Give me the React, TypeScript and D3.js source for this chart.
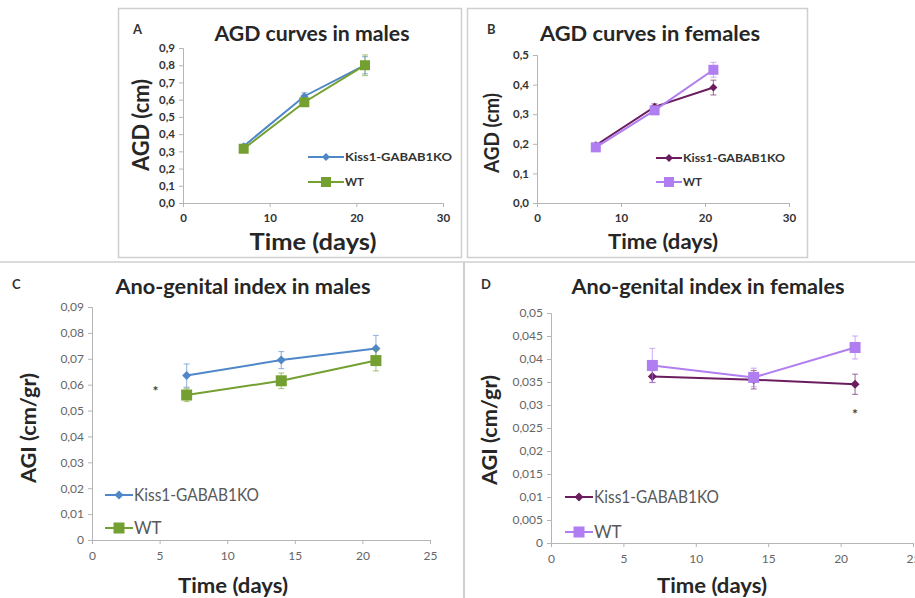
import React, { useEffect, useRef } from 'react';
import * as d3 from 'd3';

// days of measurement
const days = [7, 14, 21];

// A: AGD males
const agdMaleKO = [0.33, 0.62, 0.8];
const agdMaleKOErr = [0.01, 0.02, 0.05];
const agdMaleWT = [0.315, 0.585, 0.8];
const agdMaleWTErr = [0.01, 0.015, 0.06];

// B: AGD females
const agdFemKO = [0.195, 0.325, 0.39];
const agdFemKOErr = [0.005, 0.01, 0.025];
const agdFemWT = [0.188, 0.313, 0.45];
const agdFemWTErr = [0.005, 0.01, 0.025];

// C: AGI males
const agiMaleKO = [0.0635, 0.0695, 0.074];
const agiMaleKOErr = [0.0045, 0.0033, 0.005];
const agiMaleWT = [0.056, 0.0615, 0.0693];
const agiMaleWTErr = [0.0025, 0.003, 0.004];

// D: AGI females
const agiFemKO = [0.0362, 0.0355, 0.0345];
const agiFemKOErr = [0.0013, 0.002, 0.0022];
const agiFemWT = [0.0386, 0.036, 0.0425];
const agiFemWTErr = [0.0037, 0.002, 0.0025];

// tick labels
const ticksA = [0, 0.1, 0.2, 0.3, 0.4, 0.5, 0.6, 0.7, 0.8, 0.9];
const ticksB = [0, 0.1, 0.2, 0.3, 0.4, 0.5];
const ticksC = [0, 0.01, 0.02, 0.03, 0.04, 0.05, 0.06, 0.07, 0.08, 0.09];
const ticksD = [0, 0.005, 0.01, 0.015, 0.02, 0.025, 0.03, 0.035, 0.04, 0.045, 0.05];
const xTicksAB = [0, 10, 20, 30];
const xTicksCD = [0, 5, 10, 15, 20, 25];

const seriesNames = ['Kiss1-GABAB1KO', 'WT'];

const FONT = 'Lato, "Open Sans", sans-serif';

const fmt1 = (v) => v.toFixed(1).replace('.', ',');
const fmtSmall = (v) => (v === 0 ? '0' : String(+v.toFixed(3)).replace('.', ','));

const panels = [
  {
    letter: 'A', letterPos: [133, 34], title: 'AGD curves in males', titlePos: [312, 41], titleSize: 20, titleW: 195,
    x0: 183, x1: 443, y0: 203, y1: 48, xMax: 30, yMax: 0.9, yTicks: ticksA, xTicks: xTicksAB, yFmt: fmt1,
    bold: true, tickSize: 11.5, tickColor: '#333',
    yTitle: 'AGD (cm)', yTitlePos: [141, 125], yTitleW: 92, xTitle: 'Time (days)', xTitlePos: [313, 250], xTitleW: 127,
    axisTitleSize: 22,
    series: [
      { v: agdMaleKO, e: agdMaleKOErr, color: '#4f87c9', shape: 'diamond', size: 7 },
      { v: agdMaleWT, e: agdMaleWTErr, color: '#74a032', shape: 'square', size: 10 },
    ],
    legend: { x: 308, lineLen: 36, ys: [157, 182], size: 11.5, bold: true, w: 107 },
    stars: [],
  },
  {
    letter: 'B', letterPos: [487, 34], title: 'AGD  curves in females', titlePos: [650, 41], titleSize: 20, titleW: 220,
    x0: 537, x1: 789, y0: 203, y1: 55, xMax: 30, yMax: 0.5, yTicks: ticksB, xTicks: xTicksAB, yFmt: fmt1,
    bold: true, tickSize: 11.5, tickColor: '#333',
    yTitle: 'AGD (cm)', yTitlePos: [492, 133], yTitleW: 80, xTitle: 'Time (days)', xTitlePos: [663, 249], xTitleW: 110,
    axisTitleSize: 20,
    series: [
      { v: agdFemKO, e: agdFemKOErr, color: '#6b1d5e', shape: 'diamond', size: 7 },
      { v: agdFemWT, e: agdFemWTErr, color: '#b07ef0', shape: 'square', size: 10 },
    ],
    legend: { x: 656, lineLen: 26, ys: [158, 182], size: 11.5, bold: true, w: 102 },
    stars: [],
  },
  {
    letter: 'C', letterPos: [12, 289], title: 'Ano-genital index in males', titlePos: [243, 294], titleSize: 21, titleW: 255,
    x0: 92, x1: 430, y0: 540, y1: 307, xMax: 25, yMax: 0.09, yTicks: ticksC, xTicks: xTicksCD, yFmt: fmtSmall,
    bold: false, tickSize: 12, tickColor: '#666',
    yTitle: 'AGI (cm/gr)', yTitlePos: [29, 428], yTitleW: 110, xTitle: 'Time (days)', xTitlePos: [233, 593], xTitleW: 110,
    axisTitleSize: 20,
    series: [
      { v: agiMaleKO, e: agiMaleKOErr, color: '#4f87c9', shape: 'diamond', size: 8 },
      { v: agiMaleWT, e: agiMaleWTErr, color: '#74a032', shape: 'square', size: 11 },
    ],
    legend: { x: 105, lineLen: 28, ys: [495, 528], size: 17, bold: false, w: 125 },
    stars: [[4.7, 0.058]],
  },
  {
    letter: 'D', letterPos: [481, 289], title: 'Ano-genital index in females', titlePos: [708, 294], titleSize: 21, titleW: 273,
    x0: 551, x1: 913, y0: 543, y1: 313, xMax: 25, yMax: 0.05, yTicks: ticksD, xTicks: xTicksCD, yFmt: fmtSmall,
    bold: false, tickSize: 12, tickColor: '#666',
    yTitle: 'AGI (cm/gr)', yTitlePos: [490, 430], yTitleW: 110, xTitle: 'Time (days)', xTitlePos: [712, 593], xTitleW: 110,
    axisTitleSize: 20,
    series: [
      { v: agiFemKO, e: agiFemKOErr, color: '#6b1d5e', shape: 'diamond', size: 8 },
      { v: agiFemWT, e: agiFemWTErr, color: '#b07ef0', shape: 'square', size: 11 },
    ],
    legend: { x: 565, lineLen: 28, ys: [497, 532], size: 17, bold: false, w: 125 },
    stars: [[21, 0.0283]],
  },
];

function drawMarker(g, shape, size, color, cx, cy) {
  if (shape === 'square') {
    g.append('rect')
      .attr('x', cx - size / 2).attr('y', cy - size / 2)
      .attr('width', size).attr('height', size)
      .attr('fill', color);
  } else {
    const s = size / 2 + 0.5;
    g.append('path')
      .attr('d', `M${cx},${cy - s}L${cx + s},${cy}L${cx},${cy + s}L${cx - s},${cy}Z`)
      .attr('fill', color);
  }
}

function stretch(sel, w) {
  return sel.attr('textLength', w).attr('lengthAdjust', 'spacingAndGlyphs');
}

function drawPanel(svg, p) {
  const x = d3.scaleLinear().domain([0, p.xMax]).range([p.x0, p.x1]);
  const y = d3.scaleLinear().domain([0, p.yMax]).range([p.y0, p.y1]);
  const g = svg.append('g');
  const weight = p.bold ? 'bold' : 'normal';

  // axes
  const yAxis = g.append('g')
    .attr('transform', `translate(${p.x0},0)`)
    .call(d3.axisLeft(y).tickValues(p.yTicks).tickFormat(p.yFmt).tickSize(4).tickPadding(4));
  const xAxis = g.append('g')
    .attr('transform', `translate(0,${p.y0})`)
    .call(d3.axisBottom(x).tickValues(p.xTicks).tickFormat(d3.format('d')).tickSize(4).tickPadding(7));
  [yAxis, xAxis].forEach((ax) => {
    ax.select('.domain').attr('stroke', '#b5b5b5');
    ax.selectAll('line').attr('stroke', '#b5b5b5');
    ax.selectAll('text')
      .attr('fill', p.tickColor)
      .style('font-family', FONT)
      .style('font-size', p.tickSize + 'px')
      .style('font-weight', weight);
  });

  // series
  p.series.forEach((s) => {
    const pts = days.map((d, i) => ({ d, v: s.v[i], e: s.e[i] }));
    // error bars
    pts.forEach((pt) => {
      const cx = x(pt.d);
      const yt = y(pt.v + pt.e);
      const yb = y(pt.v - pt.e);
      g.append('line').attr('x1', cx).attr('x2', cx).attr('y1', yt).attr('y2', yb)
        .attr('stroke', s.color).attr('stroke-opacity', 0.55).attr('stroke-width', 1.2);
      [yt, yb].forEach((yy) => {
        g.append('line').attr('x1', cx - 3).attr('x2', cx + 3).attr('y1', yy).attr('y2', yy)
          .attr('stroke', s.color).attr('stroke-opacity', 0.55).attr('stroke-width', 1.2);
      });
    });
    g.append('path')
      .datum(pts)
      .attr('fill', 'none')
      .attr('stroke', s.color)
      .attr('stroke-width', 2)
      .attr('d', d3.line().x((d) => x(d.d)).y((d) => y(d.v)));
    pts.forEach((pt) => drawMarker(g, s.shape, s.size, s.color, x(pt.d), y(pt.v)));
  });

  // asterisks
  p.stars.forEach(([sx, sy]) => {
    g.append('text').attr('x', x(sx)).attr('y', y(sy) + 6)
      .attr('text-anchor', 'middle')
      .style('font-family', FONT).style('font-size', '14px').style('font-weight', 'bold').attr('fill', '#444')
      .text('*');
  });

  // legend
  p.series.forEach((s, i) => {
    const ly = p.legend.ys[i];
    g.append('line').attr('x1', p.legend.x).attr('x2', p.legend.x + p.legend.lineLen)
      .attr('y1', ly).attr('y2', ly).attr('stroke', s.color).attr('stroke-width', 2);
    drawMarker(g, s.shape, s.size, s.color, p.legend.x + p.legend.lineLen / 2, ly);
    const t = g.append('text').attr('x', p.legend.x + p.legend.lineLen + 1).attr('y', ly)
      .attr('dy', '0.35em')
      .style('font-family', FONT).style('font-size', p.legend.size + 'px')
      .style('font-weight', p.legend.bold ? 'bold' : 'normal')
      .attr('fill', p.bold ? '#333' : '#595959')
      .text(seriesNames[i]);
    if (i === 0) stretch(t, p.legend.w);
  });

  // titles
  g.append('text').attr('x', p.letterPos[0]).attr('y', p.letterPos[1])
    .style('font-family', FONT).style('font-size', '13px').style('font-weight', 'bold')
    .attr('fill', '#333').text(p.letter);
  stretch(g.append('text').attr('x', p.titlePos[0]).attr('y', p.titlePos[1]).attr('text-anchor', 'middle')
    .style('font-family', FONT).style('font-size', p.titleSize + 'px').style('font-weight', 'bold')
    .attr('fill', '#262626').text(p.title), p.titleW);
  stretch(g.append('text').attr('x', p.xTitlePos[0]).attr('y', p.xTitlePos[1]).attr('text-anchor', 'middle')
    .style('font-family', FONT).style('font-size', p.axisTitleSize + 'px').style('font-weight', 'bold')
    .attr('fill', '#262626').text(p.xTitle), p.xTitleW);
  stretch(g.append('text')
    .attr('transform', `translate(${p.yTitlePos[0]},${p.yTitlePos[1]}) rotate(-90)`)
    .attr('text-anchor', 'middle').attr('dy', '0.35em')
    .style('font-family', FONT).style('font-size', p.axisTitleSize + 'px').style('font-weight', 'bold')
    .attr('fill', '#262626').text(p.yTitle), p.yTitleW);
}

const App = () => {
  const svgRef = useRef(null);

  useEffect(() => {
    const svg = d3.select(svgRef.current);
    svg.selectAll('*').remove();

    svg.append('rect').attr('width', 915).attr('height', 598).attr('fill', 'white');

    // panel frames
    svg.append('rect').attr('x', 118.5).attr('y', 8.5).attr('width', 343).attr('height', 249)
      .attr('fill', 'none').attr('stroke', '#cfcfcf').attr('stroke-width', 1.5);
    svg.append('rect').attr('x', 467.5).attr('y', 8.5).attr('width', 340).attr('height', 249)
      .attr('fill', 'none').attr('stroke', '#cfcfcf').attr('stroke-width', 1.5);
    svg.append('line').attr('x1', 0).attr('x2', 915).attr('y1', 262).attr('y2', 262)
      .attr('stroke', '#cfcfcf').attr('stroke-width', 1.5);
    svg.append('line').attr('x1', 464).attr('x2', 464).attr('y1', 262).attr('y2', 598)
      .attr('stroke', '#cfcfcf').attr('stroke-width', 2);

    panels.forEach((p) => drawPanel(svg, p));
  }, []);

  return (
    <svg ref={svgRef} width="915" height="598"
      style={{ position: 'absolute', left: 0, top: 0, display: 'block' }} />
  );
};

export default App;
